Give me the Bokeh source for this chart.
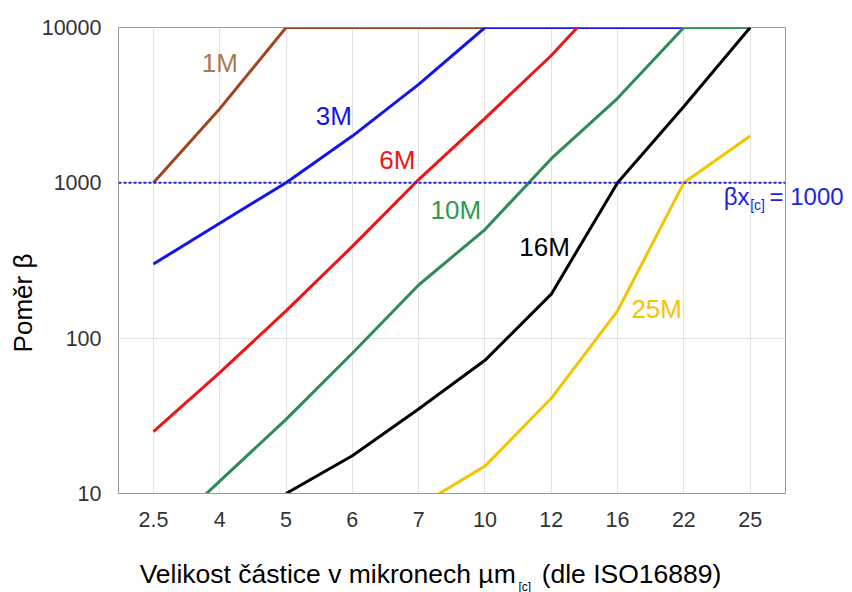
import math
import numpy as np
from bokeh.plotting import figure
from bokeh.layouts import column, row
from bokeh.models import Range1d, FixedTicker, Span, Label, PrintfTickFormatter, LogAxis
from bokeh.embed import file_html
from bokeh.resources import INLINE

# ---- data ----
sizes = ["2.5", "4", "5", "6", "7", "10", "12", "16", "22", "25"]
nan = float("nan")
beta_1M = [1000, 3000, 10000, 10000, 10000, 10000, nan, nan, nan, nan]
beta_3M = [300, 550, 1000, 2000, 4300, 10000, 10000, 10000, 10000, nan]
beta_6M = [25, 60, 150, 390, 1050, 2600, 6600, 19000, nan, nan]
beta_10M = [4.8, 12, 30, 80, 220, 500, 1430, 3500, 10000, 10000]
beta_16M = [nan, nan, 10, 17.5, 35, 72, 192, 1000, 3100, 10000]
beta_25M = [nan, nan, nan, nan, 8.3, 15, 41, 150, 1000, 2000]
series_names = ["1M", "3M", "6M", "10M", "16M", "25M"]
series_values = [beta_1M, beta_3M, beta_6M, beta_10M, beta_16M, beta_25M]
beta_ref = 1000
y_ticks = [10, 100, 1000, 10000]

line_colors = ["#A0461E", "#1414F0", "#F01414", "#2E8B57", "#000000", "#F5C400"]
label_colors = ["#A87B4F", "#1414F0", "#F01414", "#2E9B4E", "#000000", "#F5C400"]
# label anchor positions (x index, y value)
label_pos = [(1.0, 5900), (2.72, 2700), (3.68, 1400), (4.56, 670), (5.9, 385), (7.59, 154)]

FONT = "Liberation Sans"
BLUE_TXT = "#2222DD"
STRIP_W = 38

# ---- main plot ----
p = figure(width=852 - STRIP_W, height=545, output_backend="svg", toolbar_location=None,
           y_axis_type="log", x_range=Range1d(-0.527, 9.533), y_range=Range1d(10, 10000),
           min_border_left=117 - STRIP_W, min_border_right=67, min_border_top=27, min_border_bottom=52)
p.background_fill_color = "white"
p.border_fill_color = "white"
p.outline_line_color = "#9a9a9a"
p.outline_line_width = 1

x = list(range(len(sizes)))
for vals, col in zip(series_values, line_colors):
    p.line(x, vals, line_color=col, line_width=3)

p.add_layout(Span(location=beta_ref, dimension="width", line_color=BLUE_TXT,
                  line_width=2, line_dash="3 2"))

for name, (lx, ly), col in zip(series_names, label_pos, label_colors):
    p.add_layout(Label(x=lx, y=ly, text=name, text_color=col, text_font=FONT,
                       text_font_size="26px", text_align="center", text_baseline="middle"))

# axes
xax = p.xaxis[0]
yax = p.yaxis[0]
xax.ticker = FixedTicker(ticks=x)
xax.major_label_overrides = {i: s for i, s in enumerate(sizes)}
yax.ticker = FixedTicker(ticks=y_ticks)
yax.formatter = PrintfTickFormatter(format="%d")
for ax in (xax, yax):
    ax.major_tick_in = 0
    ax.major_tick_out = 0
    ax.minor_tick_in = 0
    ax.minor_tick_out = 0
    ax.axis_line_color = "#9a9a9a"
    ax.major_label_text_font = FONT
    ax.major_label_text_font_size = "21.5px"
    ax.major_label_text_color = "#333333"
xax.major_label_standoff = 18
yax.major_label_standoff = 17

p.xgrid.ticker = FixedTicker(ticks=x)
p.ygrid.ticker = FixedTicker(ticks=y_ticks)
p.xgrid.grid_line_color = "#e2e2e2"
p.ygrid.grid_line_color = "#e2e2e2"

# beta label: "βx" + subscript inside the frame, "= 1000" on a right axis
p.add_layout(Label(x=8.99, y=817, text="βx", text_color=BLUE_TXT, text_font=FONT,
                   text_font_size="24px", text_align="right", text_baseline="middle"))
p.add_layout(Label(x=9.0, y=715, text="[c]", text_color=BLUE_TXT, text_font=FONT,
                   text_font_size="14px", text_align="left", text_baseline="middle"))
rax = LogAxis(ticker=FixedTicker(ticks=[817]), major_label_overrides={817: "= 1000"})
rax.axis_line_color = None
rax.major_tick_in = 0
rax.major_tick_out = 0
rax.minor_tick_in = 0
rax.minor_tick_out = 0
rax.major_label_standoff = -16
rax.major_label_text_font = FONT
rax.major_label_text_font_size = "24px"
rax.major_label_text_color = BLUE_TXT
p.add_layout(rax, "right")

# ---- strip below: x axis title with subscript, sharing the x range ----
p2 = figure(width=852 - STRIP_W, height=47, output_backend="svg", toolbar_location=None,
            x_range=p.x_range, y_range=Range1d(0, 47),
            x_axis_location=None, y_axis_location=None,
            min_border_left=117 - STRIP_W, min_border_right=67, min_border_top=0, min_border_bottom=0)
p2.outline_line_color = None
p2.grid.visible = False
p2.border_fill_color = "white"
p2.add_layout(Label(x=5.464, y=19, text="Velikost částice v mikronech µm", text_color="black",
                    text_font=FONT, text_font_size="26.5px", text_align="right",
                    text_baseline="middle"))
p2.add_layout(Label(x=5.505, y=6, text="[c]", text_color="black",
                    text_font=FONT, text_font_size="12px", text_align="left",
                    text_baseline="middle"))
p2.add_layout(Label(x=5.855, y=19, text="(dle ISO16889)", text_color="black",
                    text_font=FONT, text_font_size="26.5px", text_align="left",
                    text_baseline="middle"))

# ---- strip on the left: y axis title ----
pl = figure(width=STRIP_W, height=592, output_backend="svg", toolbar_location=None,
            x_range=Range1d(0, STRIP_W), y_range=Range1d(0, 592),
            x_axis_location=None, y_axis_location=None,
            min_border_left=0, min_border_right=0, min_border_top=0, min_border_bottom=0)
pl.outline_line_color = None
pl.grid.visible = False
pl.border_fill_color = "white"
pl.add_layout(Label(x=22, y=289.5, text="Poměr β", angle=math.pi / 2, text_color="black",
                    text_font=FONT, text_font_size="26px", text_align="center",
                    text_baseline="middle"))

layout = row(pl, column(p, p2, spacing=0), spacing=0)
open("out.html", "w").write(file_html(layout, INLINE))
